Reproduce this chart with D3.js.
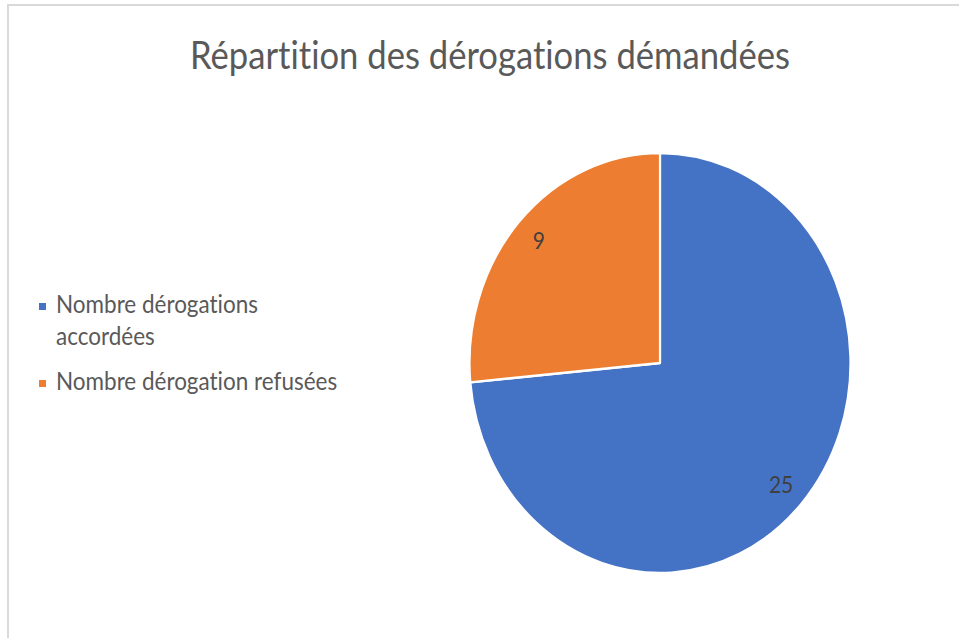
<!DOCTYPE html>
<html>
<head>
<meta charset="utf-8">
<script src="https://cdn.jsdelivr.net/npm/d3@7"></script>
<style>
  html, body { margin: 0; padding: 0; background: #fff; }
  svg { display: block; }
  text { font-variant-ligatures: none; font-feature-settings: "liga" 0; }
</style>
</head>
<body>
<svg id="chart" width="959" height="638"></svg>
<script>
// Chart data
const categories = ["Nombre dérogations accordées", "Nombre dérogation refusées"];
const values = [25, 9];
const colors = ["#4472C4", "#ED7D31"];
const legendLines = [["Nombre dérogations", "accordées"], ["Nombre dérogation refusées"]];
const title = "Répartition des dérogations démandées";

const svg = d3.select("#chart");
const font = "Lato, 'Open Sans', sans-serif";
// the whole chart is slightly taller than wide
const sy = 210 / 190.5;

// Chart frame (top and left edges visible)
svg.append("path")
  .attr("d", "M8,638 V5 H959")
  .attr("fill", "none")
  .attr("stroke", "#d9d9d9")
  .attr("stroke-width", 2);

// Title
const titleEl = svg.append("text")
  .attr("transform", `translate(490,69) scale(1,${sy})`)
  .attr("text-anchor", "middle")
  .attr("font-family", font)
  .attr("font-size", 32)
  .attr("fill", "#595959")
  .text(title);
// size the title to its intended width
{
  const w = titleEl.node().getComputedTextLength();
  titleEl.attr("font-size", 32 * 600 / w);
}

// Pie: drawn as a circle then stretched vertically
const cx = 660, cy = 363, r = 190.5;
const pie = d3.pie().value(d => d).sort(null);
const arcs = pie(values);
const arc = d3.arc().innerRadius(0).outerRadius(r);
const labelArc = d3.arc().innerRadius(r * 0.86).outerRadius(r * 0.86);

const g = svg.append("g")
  .attr("transform", `translate(${cx},${cy}) scale(1,${sy})`);

g.selectAll("path.slice")
  .data(arcs)
  .join("path")
  .attr("class", "slice")
  .attr("d", arc)
  .attr("fill", (d, i) => colors[i])
  .attr("stroke", "#ffffff")
  .attr("stroke-width", 2.2)
  .attr("stroke-linejoin", "round");

// Data labels
g.selectAll("text.dlabel")
  .data(arcs)
  .join("text")
  .attr("class", "dlabel")
  .attr("x", d => labelArc.centroid(d)[0])
  .attr("y", d => labelArc.centroid(d)[1])
  .attr("dy", "0.35em")
  .attr("text-anchor", "middle")
  .attr("font-family", font)
  .attr("font-size", 21)
  .attr("fill", "#404040")
  .text(d => d.data);

// Legend
const legendY = [313, 390];
const legend = svg.selectAll("g.legend")
  .data(categories)
  .join("g")
  .attr("class", "legend");

legend.append("rect")
  .attr("x", 39)
  .attr("y", (d, i) => legendY[i] - 10)
  .attr("width", 7)
  .attr("height", 7)
  .attr("fill", (d, i) => colors[i]);

const legendText = legend.append("text")
  .attr("transform", (d, i) => `translate(56,${legendY[i]}) scale(1,${sy})`)
  .attr("font-family", font)
  .attr("font-size", 20)
  .attr("fill", "#595959");

legendText.each(function(d, i) {
  d3.select(this).selectAll("tspan")
    .data(legendLines[i])
    .join("tspan")
    .attr("x", 0)
    .attr("dy", (t, j) => j === 0 ? 0 : 32 / sy)
    .text(t => t);
});

// size the legend font so the longest entry spans its intended width
{
  const node = legendText.nodes()[1];
  const w = node.getComputedTextLength();
  legendText.attr("font-size", 20 * 281 / w);
}
</script>
</body>
</html>
